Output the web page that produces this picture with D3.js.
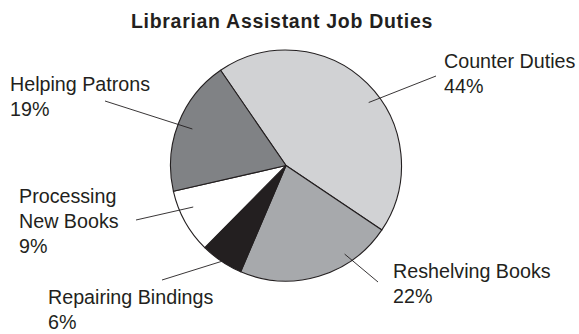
<!DOCTYPE html>
<html>
<head>
<meta charset="utf-8">
<script src="https://cdn.jsdelivr.net/npm/d3@7/dist/d3.min.js"></script>
<style>
  html, body { margin: 0; padding: 0; background: #fff; }
  svg { display: block; font-family: "Liberation Sans", Arial, Helvetica, sans-serif; }
</style>
</head>
<body>
<svg id="chart" width="579" height="334"></svg>
<script>
// Share of time spent on each duty (percent)
const categories = ["Counter Duties", "Reshelving Books", "Repairing Bindings", "Processing New Books", "Helping Patrons"];
const values = [44, 22, 6, 9, 19];
// Label text lines for each slice (category name wrapped, then the percentage)
const labelLines = [
  ["Counter Duties"],
  ["Reshelving Books"],
  ["Repairing Bindings"],
  ["Processing", "New Books"],
  ["Helping Patrons"]
];

const fills = ["#d1d2d4", "#a7a9ac", "#231f20", "#ffffff", "#808285"];

// Label placement: text anchor point, leader end near the text,
// and a small angular shift for where the leader touches the slice.
const labelLayout = [
  { x: 444, y: 68, lx: 436, ly: 76, shift: 8, rr: 0.9 },
  { x: 393, y: 277.5, lx: 378, ly: 282, shift: -17, rr: 0.92 },
  { x: 48, y: 303.5, lx: 162, ly: 280, shift: 0, rr: 1.0 },
  { x: 19, y: 202.5, lx: 136, ly: 220, shift: 5, rr: 0.88 },
  { x: 10, y: 90.5, lx: 105, ly: 101, shift: 0, rr: 0.87 }
];

const svg = d3.select("#chart");
const cx = 286, cy = 165.5, R = 115.5;
const lineH = 25.2;

svg.append("text")
  .attr("x", 282).attr("y", 28)
  .attr("text-anchor", "middle")
  .attr("font-size", 19.5)
  .attr("font-weight", "bold")
  .attr("letter-spacing", 0.7)
  .attr("fill", "#231f20")
  .text("Librarian Assistant Job Duties");

const pie = d3.pie().sort(null).value(d => d)
  .startAngle(-34.5 * Math.PI / 180)
  .endAngle((360 - 34.5) * Math.PI / 180);
const arcs = pie(values);
const arc = d3.arc().innerRadius(0).outerRadius(R);

const g = svg.append("g").attr("transform", `translate(${cx},${cy})`);
g.selectAll("path.slice")
  .data(arcs)
  .join("path")
  .attr("class", "slice")
  .attr("d", arc)
  .attr("fill", (d, i) => fills[i])
  .attr("stroke", "#231f20")
  .attr("stroke-width", 1.1)
  .attr("stroke-linejoin", "round");

// Leader lines from inside each slice out to its label
arcs.forEach((d, i) => {
  const L = labelLayout[i];
  const a = (d.startAngle + d.endAngle) / 2 + L.shift * Math.PI / 180;
  const r = R * L.rr;
  const px = cx + r * Math.sin(a), py = cy - r * Math.cos(a);
  svg.append("line")
    .attr("x1", px).attr("y1", py)
    .attr("x2", L.lx).attr("y2", L.ly)
    .attr("stroke", "#231f20")
    .attr("stroke-width", 0.9);
});

// Labels: name lines followed by the percentage
arcs.forEach((d, i) => {
  const L = labelLayout[i];
  const lines = labelLines[i].concat([d.data + "%"]);
  const t = svg.append("text")
    .attr("x", L.x).attr("y", L.y)
    .attr("font-size", 19.7)
    .attr("fill", "#231f20");
  lines.forEach((s, k) => {
    t.append("tspan").attr("x", L.x).attr("y", L.y + k * lineH).text(s);
  });
});
</script>
</body>
</html>
